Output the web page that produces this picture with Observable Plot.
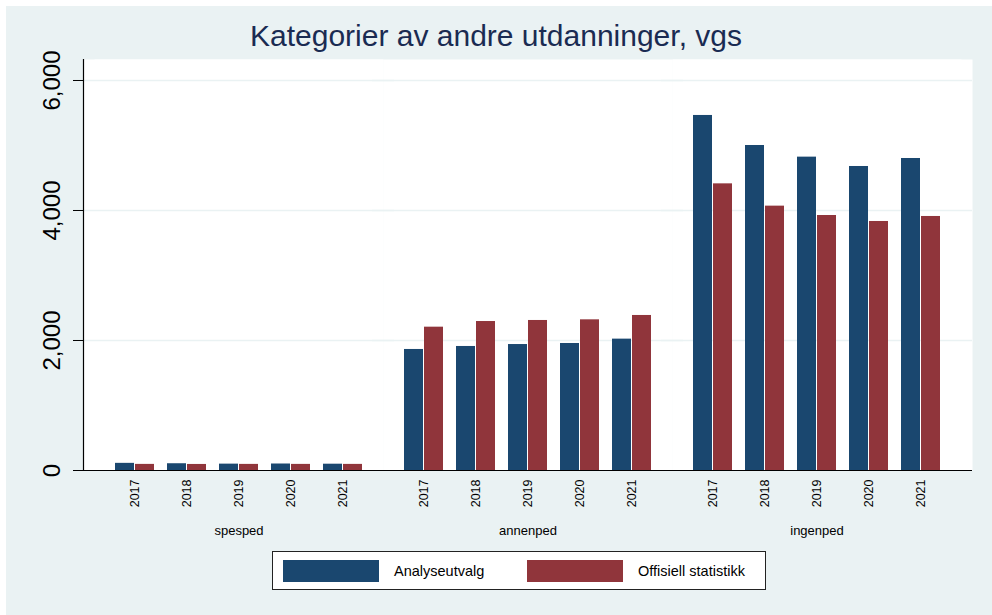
<!DOCTYPE html>
<html>
<head>
<meta charset="utf-8">
<script src="https://cdn.jsdelivr.net/npm/d3@7"></script>
<script src="https://cdn.jsdelivr.net/npm/@observablehq/plot@0.6"></script>
<style>
html, body { margin: 0; padding: 0; background: #ffffff; }
#wrap { position: relative; width: 992px; height: 615px; overflow: hidden; font-family: "Liberation Sans", Arial, sans-serif; }
#bg { position: absolute; left: 6px; top: 6px; right: 0; bottom: 0; background: #EAF2F3; }
#title { position: absolute; left: 6px; width: 980px; top: 21px; text-align: center; font-size: 30px; line-height: 30px; color: #1A2B52; white-space: nowrap; }
#chart { position: absolute; left: 0; top: 0; }
#legend { position: absolute; left: 272px; top: 551px; width: 492px; height: 37px; background: #ffffff; border: 1px solid #222; }
.sw { position: absolute; top: 8px; width: 96px; height: 22px; }
.lb { position: absolute; top: 11px; font-size: 14.5px; line-height: 16px; color: #000; white-space: nowrap; }
</style>
</head>
<body>
<div id="wrap">
  <div id="bg"></div>
  <div id="title"></div>
  <div id="chart"></div>
  <div id="legend"></div>
</div>
<script>
const titleText = "Kategorier av andre utdanninger, vgs";
const groups = ["spesped", "annenped", "ingenped"];
const years = ["2017", "2018", "2019", "2020", "2021"];
const series = ["Analyseutvalg", "Offisiell statistikk"];
const colors = ["#1A476F", "#90353B"];
// values in order: groups x years
const analyseutvalg = [110, 104, 98, 100, 97, 1862, 1908, 1938, 1954, 2021, 5462, 5000, 4821, 4677, 4800];
const offisiellStatistikk = [94, 93, 94, 94, 94, 2205, 2292, 2308, 2318, 2385, 4410, 4067, 3923, 3831, 3908];
const yTicks = [0, 2000, 4000, 6000];

const seriesValues = [analyseutvalg, offisiellStatistikk];
const rows = [];
series.forEach((s, si) => {
  groups.forEach((g, gi) => {
    years.forEach((y, yi) => {
      rows.push({series: s, group: g, year: y, value: seriesValues[si][gi * years.length + yi]});
    });
  });
});

document.getElementById("title").textContent = titleText;

const edge = -11;
const chart = Plot.plot({
  width: 992,
  height: 548,
  marginLeft: 83,
  marginRight: 20,
  marginTop: 59,
  marginBottom: 78,
  style: {background: "transparent", fontFamily: "'Liberation Sans', Arial, sans-serif", color: "#000"},
  fx: {domain: groups, paddingInner: 0, paddingOuter: 0.03806, label: null},
  x: {domain: years, paddingInner: 0.245, paddingOuter: 0.349, label: null},
  y: {domain: [0, 6323], label: null},
  marks: [
    Plot.frame({fill: "white", stroke: null}),
    Plot.frame({fill: "white", stroke: null, facetAnchor: "left", insetLeft: edge}),
    Plot.frame({fill: "white", stroke: null, facetAnchor: "right", insetRight: edge}),
    Plot.ruleY(yTicks.filter(d => d > 0), {stroke: "#EAF2F3", strokeWidth: 1.6, insetLeft: edge, insetRight: edge}),
    Plot.barY(rows.filter(d => d.series === series[0]), {fx: "group", x: "year", y: "value", fill: colors[0], insetRight: 20}),
    Plot.barY(rows.filter(d => d.series === series[1]), {fx: "group", x: "year", y: "value", fill: colors[1], insetLeft: 20}),
    Plot.ruleY([0], {stroke: "#000", strokeWidth: 1.2, insetLeft: edge, insetRight: edge}),
    Plot.frame({anchor: "left", facetAnchor: "left", insetLeft: edge, stroke: "#000", strokeWidth: 1.2}),
    Plot.axisY({ticks: yTicks, tickFormat: d3.format(","), tickSize: 10, tickPadding: 14, tickRotate: -90, fontSize: 24, label: null, stroke: "#000", dx: edge}),
    Plot.axisX({tickSize: 0, tickPadding: 9, tickRotate: -90, fontSize: 12.5, label: null}),
    Plot.axisFx({anchor: "bottom", tickSize: 0, tickPadding: 55, fontSize: 13, label: null})
  ]
});
document.getElementById("chart").appendChild(chart);

const legend = document.getElementById("legend");
const swLeft = [10, 254];
const lbLeft = [121, 365];
series.forEach((s, i) => {
  const sw = document.createElement("div");
  sw.className = "sw";
  sw.style.left = swLeft[i] + "px";
  sw.style.background = colors[i];
  legend.appendChild(sw);
  const lb = document.createElement("div");
  lb.className = "lb";
  lb.style.left = lbLeft[i] + "px";
  lb.textContent = s;
  legend.appendChild(lb);
});
</script>
</body>
</html>
